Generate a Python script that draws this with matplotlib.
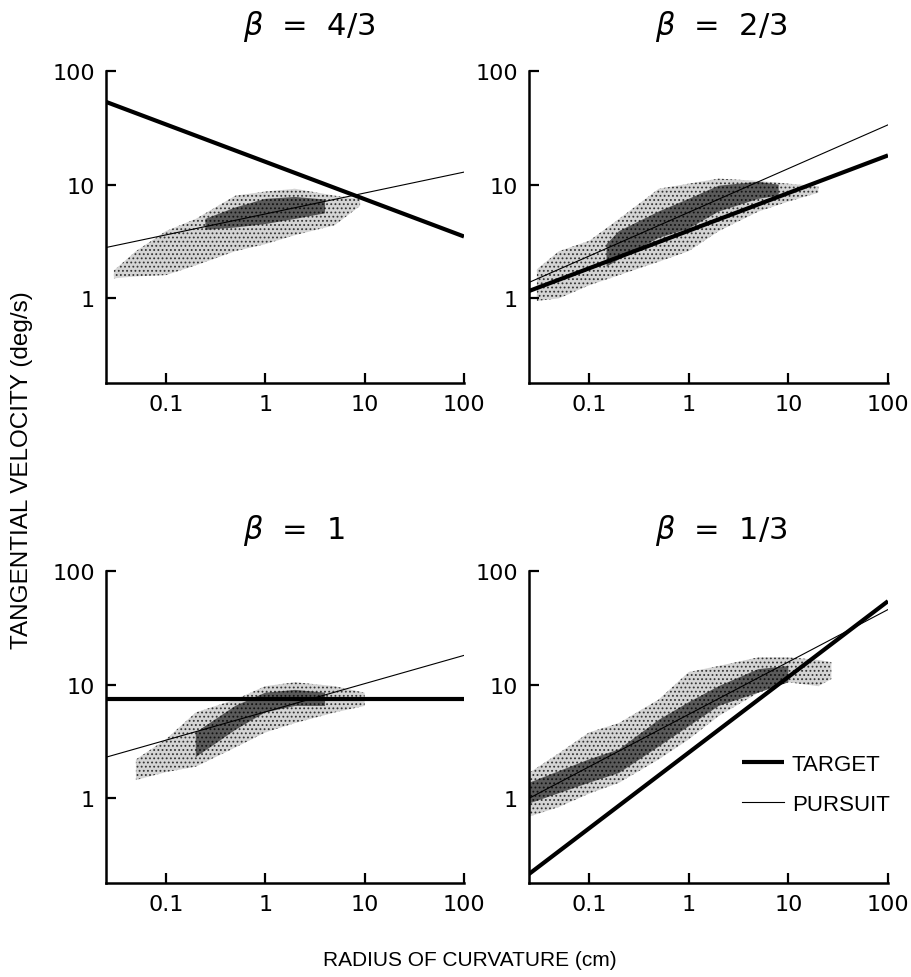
import matplotlib
matplotlib.use("Agg")
import matplotlib.pyplot as plt

plt.rcParams["font.family"] = ["DejaVu Sans"]
plt.rcParams["mathtext.fontset"] = "dejavusans"
plt.rcParams["hatch.linewidth"] = 0.8

# ---- data (log-log, radius cm vs velocity deg/s) ----
x_span = [0.025, 100]

titles = [r"$\beta$  =  4/3", r"$\beta$  =  2/3", r"$\beta$  =  1", r"$\beta$  =  1/3"]

target_43 = [53.5, 3.5]
pursuit_43 = [2.8, 12.9]
target_23 = [1.16, 18.1]
pursuit_23 = [1.38, 33.6]
target_1 = [7.5, 7.5]
pursuit_1 = [2.3, 18.1]
target_13 = [0.216, 54.3]
pursuit_13 = [1.0, 45.8]

# scatter clouds, read as envelopes: outer (sparse) and core (dense)
cloud_x_43 = [0.03, 0.05, 0.1, 0.2, 0.5, 1, 2, 5, 9]
outer_lo_43 = [1.5, 1.56, 1.6, 1.95, 2.6, 3.0, 3.6, 4.4, 6.5]
outer_hi_43 = [1.76, 2.6, 3.9, 5.0, 8.0, 8.7, 9.2, 8.0, 7.5]
core_x_43 = [0.25, 0.5, 1, 2, 4]
core_lo_43 = [4.0, 4.2, 4.5, 5.0, 5.6]
core_hi_43 = [5.0, 6.3, 7.5, 7.8, 7.4]

cloud_x_23 = [0.03, 0.05, 0.1, 0.2, 0.5, 1, 2, 5, 10, 20]
outer_lo_23 = [0.95, 1.0, 1.3, 1.6, 2.1, 2.6, 3.9, 5.8, 7.1, 8.5]
outer_hi_23 = [1.8, 2.6, 3.2, 5.0, 9.2, 10.2, 11.3, 10.8, 10.2, 9.7]
core_x_23 = [0.15, 0.2, 0.5, 1, 2, 5, 8]
core_lo_23 = [1.9, 2.2, 3.4, 4.1, 5.8, 7.5, 8.0]
core_hi_23 = [3.0, 3.9, 5.8, 7.5, 9.8, 10.6, 10.0]

cloud_x_1 = [0.05, 0.1, 0.2, 0.5, 1, 2, 5, 10]
outer_lo_1 = [1.45, 1.7, 1.9, 2.8, 3.8, 4.6, 5.7, 6.5]
outer_hi_1 = [2.2, 3.3, 5.7, 7.4, 9.7, 10.5, 9.7, 8.5]
core_x_1 = [0.2, 0.5, 1, 2, 4]
core_lo_1 = [2.3, 4.0, 5.7, 6.5, 6.5]
core_hi_1 = [3.8, 6.5, 8.5, 9.0, 8.5]

cloud_x_13 = [0.025, 0.05, 0.1, 0.2, 0.5, 1, 2, 5, 10, 20, 27]
outer_lo_13 = [0.69, 0.84, 1.1, 1.37, 2.2, 3.3, 5.3, 8.5, 10.5, 9.7, 11.2]
outer_hi_13 = [1.67, 2.5, 3.8, 4.6, 7.4, 12.9, 14.6, 17.4, 17.4, 16.5, 15.8]
core_x_13 = [0.025, 0.1, 0.2, 0.5, 1, 2, 5, 10]
core_lo_13 = [0.9, 1.37, 1.67, 2.85, 4.3, 6.5, 8.5, 10.5]
core_hi_13 = [1.37, 2.2, 2.7, 4.9, 7.0, 9.7, 13.7, 14.6]

targets = [target_43, target_23, target_1, target_13]
pursuits = [pursuit_43, pursuit_23, pursuit_1, pursuit_13]
clouds = [
    (cloud_x_43, outer_lo_43, outer_hi_43, core_x_43, core_lo_43, core_hi_43),
    (cloud_x_23, outer_lo_23, outer_hi_23, core_x_23, core_lo_23, core_hi_23),
    (cloud_x_1, outer_lo_1, outer_hi_1, core_x_1, core_lo_1, core_hi_1),
    (cloud_x_13, outer_lo_13, outer_hi_13, core_x_13, core_lo_13, core_hi_13),
]

W, H = 911, 978
fig = plt.figure(figsize=(W / 100, H / 100), dpi=100)

# axes boxes in pixels: left, top, right, bottom
boxes = [(106, 72, 464, 384), (529, 72, 888, 384),
         (106, 572, 464, 884), (529, 572, 888, 884)]
title_pos = [(243, 27), (655, 27), (243, 530), (655, 530)]

for i, (l, t, r, b) in enumerate(boxes):
    ax = fig.add_axes([l / W, 1 - b / H, (r - l) / W, (b - t) / H])
    ax.set_xscale("log")
    ax.set_yscale("log")
    ax.set_xlim(x_span)
    ax.set_ylim(0.18, 100)

    cx, olo, ohi, kx, klo, khi = clouds[i]
    ax.fill_between(cx, olo, ohi, facecolor="#d4d4d4", edgecolor="#333333",
                    hatch="....", linewidth=0, zorder=1)
    ax.fill_between(kx, klo, khi, facecolor="#5a5a5a", edgecolor="#111111",
                    hatch="....", linewidth=0, zorder=2)

    ax.plot(x_span, targets[i], color="black", lw=3.0, zorder=4,
            solid_capstyle="butt", label="TARGET")
    ax.plot(x_span, pursuits[i], color="black", lw=0.8, zorder=3,
            label="PURSUIT")

    for s in ("top", "right"):
        ax.spines[s].set_visible(False)
    for s in ("left", "bottom"):
        ax.spines[s].set_linewidth(1.8)
    ax.set_xticks([0.1, 1, 10, 100])
    ax.set_xticklabels(["0.1", "1", "10", "100"])
    ax.set_yticks([1, 10, 100])
    ax.set_yticklabels(["1", "10", "100"])
    ax.minorticks_off()
    ax.tick_params(direction="in", length=7, width=1.6, labelsize=16, pad=8)

    tx, ty = title_pos[i]
    fig.text(tx / W, 1 - ty / H, titles[i], fontsize=22, ha="left", va="center")

    if i == 3:
        ax.legend(loc="lower right", bbox_to_anchor=(1.06, 0.155), frameon=False,
                  prop={"family": "Liberation Sans", "size": 16},
                  handlelength=1.9, handletextpad=0.35, labelspacing=0.85)

fig.text(22 / W, 1 - 470 / H, "TANGENTIAL VELOCITY (deg/s)", rotation=90,
         ha="center", va="center", fontsize=17.5, family="Liberation Sans")
fig.text(470 / W, 1 - 961 / H, "RADIUS OF CURVATURE (cm)",
         ha="center", va="center", fontsize=15, family="Liberation Sans")

fig.savefig("out.png", dpi=100)
